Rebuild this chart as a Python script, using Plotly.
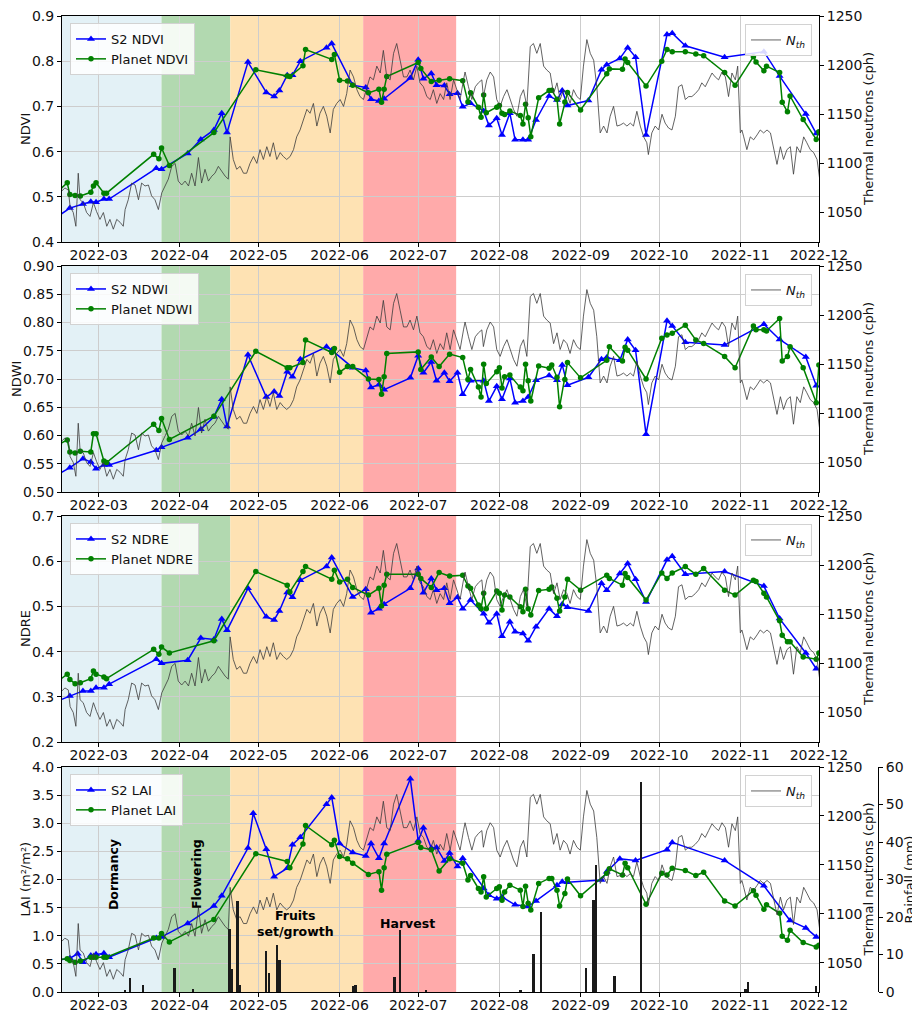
import pandas as pd
import plotly.graph_objects as go

# ---------------- DATA ----------------
BASE = pd.Timestamp("2022-02-15")          # day 0 of all day offsets
X_START = "2022-02-15"
X_END = "2022-12-01 01:00"

# Thermal neutron counts (cph), day offsets from BASE
NTH_DAY = [
    0, 1.1, 2.4, 3.1, 4.3, 5.3, 6.2, 6.9, 8.1, 9.4,
    10.7, 12.0, 13.2, 14.5, 15.8, 17.1, 18.3, 19.6, 20.9, 22.2,
    23.4, 24.1, 25.3, 26.6, 27.9, 29.2, 30.4, 31.7, 33.0, 34.2,
    35.5, 36.8, 38.1, 39.3, 40.6, 41.9, 43.2, 44.4, 45.7, 47.0,
    48.3, 49.5, 50.8, 52.1, 53.3, 54.6, 55.9, 57.2, 58.4, 59.7,
    61.0, 62.3, 63.5, 64.2, 65.4, 66.7, 68.0, 69.3, 70.5, 71.8,
    73.1, 74.4, 75.6, 76.9, 78.2, 79.4, 80.7, 82.0, 83.3, 84.5,
    85.8, 87.1, 88.4, 89.6, 90.9, 92.2, 93.5, 94.7, 96.0, 97.3,
    98.5, 99.8, 101.1, 102.4, 103.6, 104.9, 106.2, 107.5, 108.7, 110.0,
    111.3, 112.6, 113.8, 115.1, 116.4, 117.6, 118.9, 120.2, 121.5, 122.7,
    124.0, 125.3, 126.6, 127.8, 129.1, 130.4, 131.7, 132.9, 134.2, 135.5,
    136.7, 138.0, 139.3, 140.6, 141.8, 143.1, 144.4, 145.7, 146.9, 148.2,
    149.5, 150.7, 152.0, 153.3, 153.9, 155.2, 156.5, 157.8, 159.0, 160.3,
    160.9, 162.2, 163.5, 164.8, 166.0, 167.3, 168.6, 169.9, 171.1, 172.4,
    173.7, 175.0, 176.2, 177.5, 178.8, 180.0, 181.3, 182.6, 183.9, 185.1,
    186.4, 187.7, 189.0, 190.2, 191.5, 192.8, 194.0, 195.3, 196.6, 197.9,
    199.1, 200.4, 201.7, 203.0, 204.2, 205.5, 206.8, 208.1, 209.3, 210.6,
    211.9, 213.1, 214.4, 215.7, 217.0, 218.2, 219.5, 220.8, 222.1, 223.3,
    223.9, 225.2, 226.5, 227.8, 229.1, 230.3, 231.6, 232.9, 234.2, 235.4,
    236.7, 238.0, 239.3, 240.5, 241.8, 243.1, 244.3, 245.6, 246.9, 248.2,
    249.4, 250.7, 252.0, 253.3, 254.5, 255.8, 257.1, 258.0, 259.0, 259.6,
    260.3, 261.5, 262.8, 264.1, 265.4, 266.6, 267.9, 269.2, 270.5, 271.7,
    273.0, 274.3, 275.5, 276.8, 278.1, 279.3, 280.6, 281.9, 283.2, 284.4,
    285.7, 287.0, 288.3, 289.3,
]
NTH_CPH = [
    1072, 1075, 1073, 1056, 1050, 1036, 1090, 1063, 1060, 1050,
    1046, 1060, 1051, 1043, 1050, 1036, 1043, 1033, 1043, 1040,
    1036, 1053, 1063, 1080, 1078, 1063, 1080, 1077, 1078, 1067,
    1063, 1053, 1070, 1077, 1084, 1097, 1100, 1082, 1078, 1082,
    1077, 1090, 1077, 1106, 1080, 1094, 1082, 1087, 1090, 1097,
    1092, 1087, 1084, 1127, 1104, 1094, 1097, 1090, 1090, 1100,
    1107, 1100, 1114, 1104, 1117, 1107, 1121, 1104, 1111, 1107,
    1104, 1107, 1114, 1127, 1134, 1144, 1155, 1151, 1161, 1138,
    1151, 1158, 1148, 1131, 1155, 1161, 1165, 1158, 1171, 1195,
    1188, 1175, 1168, 1165, 1178, 1188, 1185, 1199, 1192, 1215,
    1188, 1185, 1212, 1222, 1205, 1188, 1188, 1195, 1185, 1199,
    1182, 1178, 1168, 1165, 1175, 1161, 1171, 1165, 1182, 1165,
    1185, 1175, 1165, 1185, 1193, 1178, 1165, 1178, 1182, 1185,
    1168, 1185, 1193, 1188, 1165, 1158, 1168, 1175, 1165, 1155,
    1148, 1168, 1175, 1158, 1219, 1222, 1212, 1222, 1199, 1195,
    1192, 1171, 1182, 1165, 1175, 1171, 1161, 1175, 1168, 1165,
    1199, 1226, 1212, 1205, 1178, 1131, 1138, 1131, 1148, 1158,
    1138, 1139, 1141, 1138, 1141, 1138, 1153, 1138, 1127, 1121,
    1109, 1131, 1138, 1134, 1150, 1141, 1136, 1134, 1148, 1178,
    1180, 1165, 1168, 1168, 1171, 1175, 1182, 1178, 1185, 1192,
    1188, 1185, 1193, 1188, 1168, 1192, 1185, 1199, 1131, 1134,
    1127, 1114, 1127, 1124, 1129, 1134, 1131, 1134, 1131, 1117,
    1099, 1117, 1104, 1114, 1117, 1089, 1117, 1111, 1127, 1121,
    1114, 1111, 1104, 1084,
]

# Sentinel-2 acquisition days (offsets from BASE) for NDVI / NDWI / NDRE
S2_DAY = [-2, 3, 8, 11, 13, 16, 18,
          36, 38, 48, 53, 58, 61, 63,
          71, 78, 81, 83, 86, 88, 91,
          101, 103, 111, 116, 118, 121, 123,
          133, 136, 138, 141, 143, 146, 148,
          151, 153, 156, 161, 163, 166, 168,
          171, 173, 176, 178, 181, 186, 189,
          191, 193, 201, 206, 208, 213, 216,
          219, 223, 231, 233, 238, 253, 268,
          274, 284, 288]
S2_NDVI = [0.455, 0.475, 0.484, 0.489, 0.488, 0.495, 0.495,
           0.563, 0.561, 0.596, 0.627, 0.648, 0.685, 0.642,
           0.798, 0.731, 0.722, 0.735, 0.769, 0.769, 0.800,
           0.830, 0.839, 0.747, 0.742, 0.716, 0.712, 0.717,
           0.763, 0.803, 0.761, 0.773, 0.747, 0.746, 0.727,
           0.729, 0.699, 0.707, 0.690, 0.658, 0.674, 0.637,
           0.685, 0.626, 0.626, 0.626, 0.670, 0.723, 0.714,
           0.735, 0.702, 0.713, 0.781, 0.792, 0.806, 0.830,
           0.809, 0.637, 0.859, 0.862, 0.834, 0.809, 0.821,
           0.767, 0.683, 0.640]
S2_NDWI = [0.530, 0.543, 0.559, 0.553, 0.541, 0.548, 0.548,
           0.574, 0.579, 0.596, 0.611, 0.633, 0.664, 0.616,
           0.743, 0.668, 0.678, 0.670, 0.713, 0.704, 0.735,
           0.757, 0.751, 0.720, 0.715, 0.685, 0.690, 0.681,
           0.702, 0.741, 0.711, 0.730, 0.697, 0.711, 0.696,
           0.711, 0.673, 0.697, 0.697, 0.661, 0.687, 0.664,
           0.701, 0.658, 0.661, 0.668, 0.698, 0.706, 0.698,
           0.725, 0.689, 0.703, 0.735, 0.738, 0.733, 0.770,
           0.751, 0.602, 0.803, 0.794, 0.765, 0.760, 0.797,
           0.770, 0.739, 0.688]
S2_NDRE = [0.290, 0.302, 0.313, 0.313, 0.320, 0.320, 0.328,
           0.383, 0.374, 0.381, 0.430, 0.427, 0.472, 0.447,
           0.540, 0.477, 0.470, 0.490, 0.531, 0.520, 0.558,
           0.588, 0.608, 0.521, 0.538, 0.486, 0.495, 0.505,
           0.540, 0.584, 0.530, 0.562, 0.536, 0.540, 0.507,
           0.520, 0.495, 0.514, 0.484, 0.464, 0.484, 0.434,
           0.466, 0.444, 0.440, 0.424, 0.455, 0.495, 0.478,
           0.505, 0.498, 0.490, 0.551, 0.536, 0.573, 0.595,
           0.560, 0.510, 0.603, 0.611, 0.571, 0.577, 0.545,
           0.473, 0.397, 0.362]

# Sentinel-2 LAI
S2_LAI_DAY = [-2, 3, 6, 8, 11, 13, 16, 18, 36, 38,
              48, 58, 61, 71, 73, 78, 81, 86, 88, 91,
              101, 103, 106, 111, 116, 118, 121, 123, 133, 136,
              138, 141, 143, 146, 148, 151, 153, 161, 163, 166,
              168, 173, 178, 181, 189, 191, 193, 206, 208, 213,
              219, 231, 233, 253, 268, 278, 284, 288]
S2_LAI = [0.56, 0.60, 0.68, 0.53, 0.65, 0.67, 0.69, 0.62, 0.96, 0.98,
          1.22, 1.53, 1.71, 2.56, 3.18, 2.54, 2.05, 2.20, 2.62, 2.75,
          3.34, 3.46, 2.64, 2.48, 2.42, 2.64, 2.38, 2.64, 3.79, 2.69,
          2.92, 2.56, 2.57, 2.33, 2.47, 2.23, 2.38, 1.84, 1.72, 1.66,
          1.69, 1.55, 1.52, 1.62, 1.90, 1.96, 1.95, 1.99, 2.14, 2.37,
          2.34, 2.53, 2.66, 2.34, 1.89, 1.27, 1.14, 0.98]

# PlanetScope acquisition days
PL_DAY = [-1, 2, 3, 5, 7, 11, 12, 13, 16, 17,
          35, 37, 38, 41, 58, 74, 86, 87, 92, 93,
          103, 104, 106, 109, 111, 117, 121, 122, 123, 124,
          136, 137, 141, 144, 148, 153, 155, 156, 159, 160,
          161, 162, 166, 167, 168, 169, 171, 175, 176, 177,
          178, 179, 182, 186, 187, 189, 190, 192, 193, 198,
          208, 209, 214, 215, 216, 223, 229, 231, 233, 238,
          242, 245, 253, 257, 264, 265, 268, 269, 274, 275,
          277, 278, 283, 288, 289]
PL_NDVI = [0.515, 0.531, 0.505, 0.503, 0.502, 0.510, 0.524, 0.531, 0.508, 0.508,
           0.594, 0.584, 0.608, 0.569, 0.642, 0.781, 0.767, 0.766, 0.790, 0.826,
           0.804, 0.815, 0.758, 0.756, 0.747, 0.730, 0.738, 0.709, 0.738, 0.766,
           0.797, 0.784, 0.755, 0.758, 0.761, 0.757, 0.710, 0.730, 0.698, 0.676,
           0.725, 0.686, 0.698, 0.702, 0.685, 0.682, 0.690, 0.680, 0.661, 0.705,
           0.675, 0.633, 0.719, 0.735, 0.736, 0.716, 0.661, 0.710, 0.731, 0.692,
           0.772, 0.783, 0.782, 0.805, 0.797, 0.745, 0.800, 0.826, 0.821, 0.821,
           0.816, 0.812, 0.775, 0.747, 0.810, 0.798, 0.779, 0.789, 0.775, 0.709,
           0.688, 0.723, 0.671, 0.627, 0.644]
PL_NDWI = [0.585, 0.592, 0.571, 0.569, 0.572, 0.571, 0.603, 0.603, 0.555, 0.552,
           0.620, 0.609, 0.630, 0.593, 0.634, 0.749, 0.720, 0.720, 0.729, 0.769,
           0.747, 0.754, 0.712, 0.722, 0.722, 0.700, 0.699, 0.673, 0.704, 0.745,
           0.748, 0.717, 0.739, 0.722, 0.744, 0.738, 0.699, 0.717, 0.686, 0.668,
           0.726, 0.692, 0.713, 0.720, 0.684, 0.704, 0.707, 0.686, 0.679, 0.726,
           0.697, 0.661, 0.723, 0.719, 0.725, 0.703, 0.651, 0.699, 0.729, 0.702,
           0.733, 0.757, 0.732, 0.756, 0.751, 0.700, 0.772, 0.778, 0.781, 0.795,
           0.769, 0.763, 0.740, 0.720, 0.794, 0.787, 0.787, 0.785, 0.807, 0.732,
           0.740, 0.757, 0.720, 0.658, 0.725]
PL_NDRE = [0.337, 0.350, 0.338, 0.329, 0.331, 0.340, 0.357, 0.350, 0.344, 0.340,
           0.405, 0.394, 0.410, 0.397, 0.424, 0.577, 0.547, 0.532, 0.577, 0.588,
           0.560, 0.580, 0.554, 0.560, 0.542, 0.525, 0.540, 0.501, 0.547, 0.571,
           0.571, 0.562, 0.542, 0.575, 0.567, 0.569, 0.545, 0.540, 0.503, 0.495,
           0.529, 0.495, 0.534, 0.529, 0.492, 0.525, 0.521, 0.499, 0.488, 0.538,
           0.495, 0.481, 0.535, 0.538, 0.543, 0.518, 0.490, 0.521, 0.560, 0.536,
           0.569, 0.562, 0.547, 0.573, 0.564, 0.514, 0.574, 0.562, 0.574, 0.588,
           0.571, 0.584, 0.536, 0.525, 0.558, 0.555, 0.529, 0.521, 0.468, 0.436,
           0.422, 0.422, 0.388, 0.383, 0.397]
PL_LAI = [0.58, 0.59, 0.56, 0.53, 0.55, 0.62, 0.62, 0.62, 0.62, 0.62,
          0.96, 0.96, 1.04, 0.89, 1.29, 2.46, 2.32, 2.21, 2.63, 2.96,
          2.62, 2.70, 2.41, 2.37, 2.29, 2.09, 2.14, 1.81, 2.21, 2.45,
          2.66, 2.57, 2.53, 2.15, 2.37, 2.29, 1.99, 2.07, 1.84, 1.78,
          2.05, 1.69, 1.84, 1.87, 1.63, 1.78, 1.90, 1.81, 1.52, 1.88,
          1.58, 1.46, 1.93, 2.02, 2.02, 1.81, 1.53, 1.75, 2.01, 1.71,
          2.11, 2.19, 2.08, 2.29, 2.21, 1.56, 2.11, 2.08, 2.20, 2.16,
          2.07, 2.13, 1.62, 1.53, 1.80, 1.72, 1.47, 1.55, 1.40, 0.99,
          0.92, 1.10, 0.88, 0.80, 0.83]

# Daily rainfall (mm)
RAIN_DAY = [24, 26, 31, 43, 50, 64, 65, 67, 68, 78, 79, 82, 83, 111, 112,
            127, 129, 139, 175, 180, 183, 200, 203, 204, 211, 221, 261, 262, 288]
RAIN_MM = [0.6, 3.7, 2.0, 6.4, 0.9, 16.7, 6.1, 24.2, 2.0, 11.0, 5.1, 12.5, 8.6, 1.6, 1.8,
           4.0, 16.5, 0.6, 0.6, 10.1, 21.4, 6.5, 24.5, 33.9, 4.3, 56.0, 0.9, 2.7, 1.6]

# Phenological phases
PHASE_NAMES = ["Dormancy", "Flowering", "Fruits<br>set/growth", "Harvest"]
PHASE_START = ["2022-02-15", "2022-03-25", "2022-04-20 06:00", "2022-06-10"]
PHASE_END = ["2022-03-25", "2022-04-20 06:00", "2022-06-10", "2022-07-15 12:00"]

# ---------------- STYLE ----------------
FONT = "DejaVu Sans"
PHASE_COLORS = ["rgb(227,241,246)", "rgb(178,217,176)", "rgb(254,226,179)", "rgb(255,170,170)"]
GRID = "rgb(205,205,205)"
S2_COLOR = "#0000ff"
PL_COLOR = "#008000"
NTH_COLOR = "rgba(60,60,60,0.8)"


def to_dates(days):
    return [BASE + pd.Timedelta(days=float(d)) for d in days]


nth_x = to_dates(NTH_DAY)

W, H = 912, 1012
ML, MR, MT, MB = 62, 34, 16, 20
PW, PH = W - ML - MR, H - MT - MB
X_RIGHT = 819
XDOM = [0, (X_RIGHT - ML) / PW]
PANEL_TOP = [16, 266, 516, 767]
PANEL_BOT = [242, 492, 742, 992]
LEFT_TITLE_X = [25, 16, 25, 25]


def py(px):
    return (H - MB - px) / PH


def pxx(px):
    return (px - ML) / PW


panels = [
    dict(label="NDVI", title="NDVI", s2x=S2_DAY, s2y=S2_NDVI, ply=PL_NDVI,
         rng=[0.4, 0.9], dt=0.1, fmt=".1f"),
    dict(label="NDWI", title="NDWI", s2x=S2_DAY, s2y=S2_NDWI, ply=PL_NDWI,
         rng=[0.5, 0.9], dt=0.05, fmt=".2f"),
    dict(label="NDRE", title="NDRE", s2x=S2_DAY, s2y=S2_NDRE, ply=PL_NDRE,
         rng=[0.2, 0.7], dt=0.1, fmt=".1f"),
    dict(label="LAI", title="LAI (m²/m²)", s2x=S2_LAI_DAY, s2y=S2_LAI, ply=PL_LAI,
         rng=[0.0, 4.0], dt=0.5, fmt=".1f"),
]

fig = go.Figure()
layout = {}
shapes = []
annots = []
tickfont = dict(family=FONT, size=14, color="#111")
titlefont = dict(family=FONT, size=13, color="#111")

for i, p in enumerate(panels):
    xid = "x" if i == 0 else f"x{i+1}"
    xkey = "xaxis" if i == 0 else f"xaxis{i+1}"
    yl = 2 * i + 1
    yr = 2 * i + 2
    ylid = "y" if yl == 1 else f"y{yl}"
    ylkey = "yaxis" if yl == 1 else f"yaxis{yl}"
    yrid = f"y{yr}"
    yrkey = f"yaxis{yr}"
    legL = "legend" if i == 0 else f"legend{2*i+1}"
    legR = f"legend{2*i+2}"
    dom = [py(PANEL_BOT[i]), py(PANEL_TOP[i])]
    ymid = (dom[0] + dom[1]) / 2

    layout[xkey] = dict(domain=XDOM, anchor=ylid, type="date", range=[X_START, X_END],
                        tick0="2022-03-01", dtick="M1", tickformat="%Y-%m",
                        showgrid=True, gridcolor=GRID, gridwidth=1,
                        ticks="outside", ticklen=4, tickcolor="black",
                        ticklabelstandoff=-4,
                        showline=True, linecolor="black", linewidth=1, mirror=True,
                        tickfont=tickfont, zeroline=False)
    layout[ylkey] = dict(domain=dom, anchor=xid, range=p["rng"], dtick=p["dt"],
                         tick0=0, tickformat=p["fmt"], showgrid=True, gridcolor=GRID,
                         ticks="outside", ticklen=4, tickcolor="black",
                         showline=True, linecolor="black", linewidth=1,
                         tickfont=tickfont, zeroline=False)
    layout[yrkey] = dict(overlaying=ylid, anchor=xid, side="right", range=[1020, 1250],
                         tick0=1000, dtick=50, showgrid=False, zeroline=False,
                         ticks="outside", ticklen=4, tickcolor="black",
                         showline=True, linecolor="black", linewidth=1,
                         tickfont=tickfont)

    # axis titles as rotated annotations
    annots.append(dict(x=pxx(LEFT_TITLE_X[i]), y=ymid, xref="paper", yref="paper",
                       text=p["title"], textangle=-90, showarrow=False,
                       xanchor="center", yanchor="middle", font=titlefont))
    annots.append(dict(x=pxx(868), y=ymid, xref="paper", yref="paper",
                       text="Thermal neutrons (cph)", textangle=-90, showarrow=False,
                       xanchor="center", yanchor="middle", font=titlefont))

    for k in range(4):
        shapes.append(dict(type="rect", xref=xid, yref=f"{ylid} domain",
                           x0=PHASE_START[k], x1=PHASE_END[k], y0=0, y1=1,
                           fillcolor=PHASE_COLORS[k], line=dict(width=0), layer="below"))

    fig.add_trace(go.Scatter(x=to_dates(p["s2x"]), y=p["s2y"], xaxis=xid, yaxis=ylid,
                             mode="lines+markers", name=f"S2 {p['label']}",
                             line=dict(color=S2_COLOR, width=1.5),
                             marker=dict(symbol="triangle-up", size=7, color=S2_COLOR),
                             legend=legL))
    fig.add_trace(go.Scatter(x=to_dates(PL_DAY), y=p["ply"], xaxis=xid, yaxis=ylid,
                             mode="lines+markers", name=f"Planet {p['label']}",
                             line=dict(color=PL_COLOR, width=1.5),
                             marker=dict(symbol="circle", size=5.5, color=PL_COLOR),
                             legend=legL))
    fig.add_trace(go.Scatter(x=nth_x, y=NTH_CPH, xaxis=xid, yaxis=yrid, mode="lines",
                             name="<i>N</i><sub><i>th</i></sub>",
                             line=dict(color=NTH_COLOR, width=1), legend=legR))

    layout[legL] = dict(x=pxx(70), y=py(PANEL_TOP[i] + 7), xanchor="left", yanchor="top",
                        bgcolor="rgba(255,255,255,0.85)", bordercolor="rgb(210,210,210)",
                        borderwidth=1, font=dict(family=FONT, size=13, color="#111"),
                        tracegroupgap=0, itemwidth=30)
    layout[legR] = dict(x=pxx(812), y=py(PANEL_TOP[i] + 8), xanchor="right", yanchor="top",
                        bgcolor="rgba(255,255,255,0.85)", bordercolor="rgb(210,210,210)",
                        borderwidth=1, font=dict(family=FONT, size=13, color="#111"),
                        itemwidth=30)

# Rainfall bars on a third axis in the LAI panel
fig.add_trace(go.Bar(x=to_dates(RAIN_DAY), y=RAIN_MM, xaxis="x4", yaxis="y9",
                     marker=dict(color="#1a1a1a", line=dict(width=0)),
                     width=0.9 * 86400000, showlegend=False))
layout["yaxis9"] = dict(overlaying="y7", anchor="free", position=1.0, side="right",
                        range=[0, 60], dtick=10, showgrid=False, zeroline=False,
                        ticks="outside", ticklen=4, tickcolor="black",
                        showline=True, linecolor="black", linewidth=1,
                        tickfont=tickfont)
annots.append(dict(x=pxx(909), y=(py(PANEL_BOT[3]) + py(PANEL_TOP[3])) / 2,
                   xref="paper", yref="paper", text="Rainfall (mm)", textangle=-90,
                   showarrow=False, xanchor="center", yanchor="middle", font=titlefont))

label_pos = [("2022-03-06 12:00", 2.08, -90), ("2022-04-07 14:00", 2.1, -90),
             ("2022-05-15", 1.22, 0), ("2022-06-27", 1.22, 0)]
for name, (lx, ly, ang) in zip(PHASE_NAMES, label_pos):
    annots.append(dict(x=lx, y=ly, xref="x4", yref="y7", text=f"<b>{name}</b>",
                       showarrow=False, textangle=ang,
                       font=dict(family=FONT, size=12.5, color="black")))

fig.update_layout(
    width=W, height=H,
    margin=dict(l=ML, r=MR, t=MT, b=MB, autoexpand=False),
    paper_bgcolor="white", plot_bgcolor="white",
    font=dict(family=FONT, size=13, color="#111"),
    shapes=shapes, annotations=annots, bargap=0,
    **layout,
)

fig.write_html("out.html", config={"displayModeBar": False},
               post_script="document.body.style.margin='0';")
